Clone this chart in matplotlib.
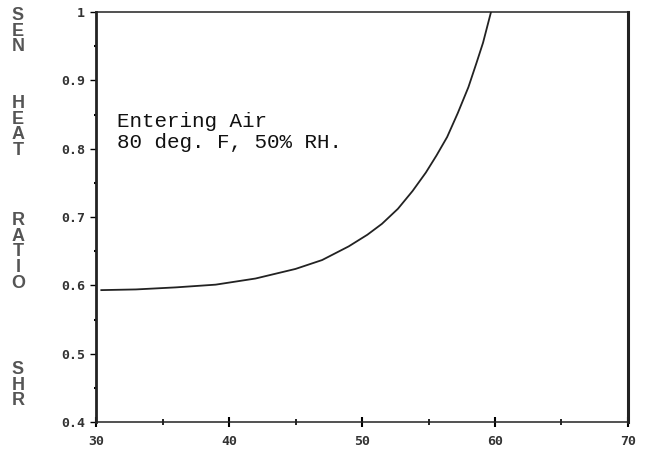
import matplotlib
matplotlib.use("Agg")
import matplotlib.pyplot as plt
import numpy as np

# sensible heat ratio vs. coil temperature
temp = [30.4, 33.0, 36.0, 39.0, 42.0, 45.0, 47.0, 49.0, 50.4, 51.5, 52.7, 53.8,
        54.8, 55.6, 56.4, 57.2, 58.0, 58.6, 59.1, 59.7]
shr = [0.593, 0.594, 0.597, 0.601, 0.610, 0.624, 0.637, 0.657, 0.674, 0.690, 0.712, 0.738,
       0.765, 0.790, 0.817, 0.852, 0.890, 0.925, 0.955, 1.0]

x_ticks = [30, 40, 50, 60, 70]
y_ticks = [0.4, 0.5, 0.6, 0.7, 0.8, 0.9, 1.0]
y_tick_labels = ["0.4", "0.5", "0.6", "0.7", "0.8", "0.9", "1"]

ylabel_words = ["SEN", "HEAT", "RATIO", "SHR"]
ylabel_centers = [31, 127, 252, 385]  # pixel rows from top

note = "Entering Air\n80 deg. F, 50% RH."

fig = plt.figure(figsize=(6.46, 4.57), dpi=100)
ax = fig.add_axes([96 / 646, 1 - 422 / 457, (628 - 96) / 646, (422 - 12) / 457])

ax.plot(temp, shr, color="#222222", lw=1.3)

ax.set_xlim(30, 70)
ax.set_ylim(0.4, 1.0)
ax.set_xticks(x_ticks)
ax.set_xticks(np.arange(35, 70, 10), minor=True)
ax.set_yticks(y_ticks)
ax.set_yticklabels(y_tick_labels)
ax.set_yticks(np.arange(0.45, 1.0, 0.1), minor=True)

for lab in ax.get_xticklabels() + ax.get_yticklabels():
    lab.set_fontweight("bold")
    lab.set_family("DejaVu Sans Mono")
    lab.set_fontsize(9.5)
    lab.set_color("#333333")

ax.tick_params(axis="x", which="major", direction="inout", length=7, width=1.5, pad=6)
ax.tick_params(axis="x", which="minor", direction="inout", length=5, width=1.2)
ax.tick_params(axis="y", which="major", direction="out", length=4, width=1.0, pad=4)
ax.tick_params(axis="y", which="minor", direction="out", length=1.5, width=1.5)

ax.spines["left"].set_linewidth(2.0)
ax.spines["right"].set_linewidth(2.2)
ax.spines["top"].set_linewidth(1.1)
ax.spines["bottom"].set_linewidth(1.1)
for s in ax.spines.values():
    s.set_color("#222222")

ax.text(31.6, 0.853, note, va="top", ha="left", family="Liberation Mono",
        fontsize=15, color="#111111", linespacing=1.1)

for word, yc in zip(ylabel_words, ylabel_centers):
    fig.text(18 / 646, 1 - yc / 457, "\n".join(word), ha="center", va="center",
             fontsize=13, fontweight="bold", color="#555555", linespacing=0.92,
             family="Liberation Sans")

fig.savefig("out.png", dpi=100)
